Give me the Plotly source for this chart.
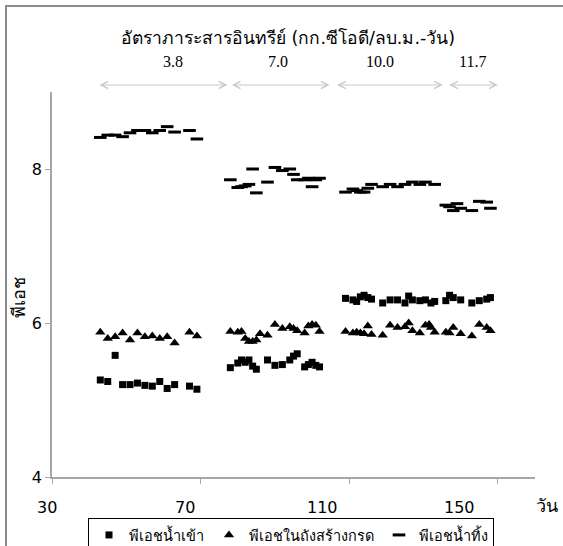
import plotly.graph_objects as go

# ---------------- data ----------------
days = [43, 45, 47, 49, 51, 53, 55, 57, 59, 61, 63, 67, 69,
        78, 80, 81, 82, 83, 84, 85, 86, 88, 90, 92, 94, 95, 96, 98, 99, 100, 101, 102,
        109, 111, 112, 113, 114, 115, 116, 119, 121, 123, 125, 126, 127, 129, 130.5, 131.5, 132, 133,
        136, 137, 138, 139, 140, 143, 145, 147, 148]

ph_influent = [5.26, 5.24, 5.58, 5.20, 5.20, 5.22, 5.19, 5.18, 5.24, 5.15, 5.20, 5.18, 5.14,
               5.42, 5.48, 5.52, 5.49, 5.52, 5.44, 5.40, None, 5.52, 5.45, 5.46, 5.52, 5.57, 5.60, 5.43, 5.46, 5.49, 5.45, 5.43,
               6.32, 6.30, 6.28, 6.34, 6.36, 6.33, 6.31, 6.26, 6.30, 6.30, 6.26, 6.35, 6.30, 6.29, 6.30, None, 6.26, 6.28,
               6.29, 6.36, 6.33, None, 6.30, 6.26, 6.29, 6.31, 6.33]

ph_acid_tank = [5.88, 5.80, 5.82, 5.87, 5.78, 5.87, 5.82, 5.83, 5.80, 5.82, 5.74, 5.88, 5.83,
                5.89, 5.88, 5.89, 5.80, 5.76, 5.76, 5.78, 5.86, 5.84, 5.98, 5.93, 5.95, 5.93, 5.90, 5.87, 5.96, 5.98, 5.97, 5.89,
                5.89, 5.87, 5.88, 5.87, 5.86, 5.96, 5.85, 5.84, 5.97, 5.94, 5.95, 6.00, 5.90, 5.87, 5.97, 5.98, 5.94, 5.88,
                5.88, 5.87, 5.94, None, 5.86, 5.83, 5.98, 5.94, 5.90]

ph_effluent = [8.41, 8.44, 8.44, 8.42, 8.47, 8.50, 8.50, 8.47, 8.50, 8.55, 8.48, 8.50, 8.39,
               7.86, 7.76, 7.77, 7.78, 7.80, 8.00, 7.69, None, 7.83, 8.02, 7.98, 8.00, 7.93, 7.86, 7.86, 7.88, 7.77, 7.86, 7.88,
               7.70, 7.74, 7.72, 7.70, 7.70, 7.75, 7.80, 7.77, 7.80, 7.77, 7.80, None, 7.83, 7.80, 7.83, None, None, 7.80,
               7.53, 7.51, 7.46, 7.55, 7.49, 7.46, 7.58, 7.57, 7.49]

series_names = ["พีเอชน้ำเข้า", "พีเอชในถังสร้างกรด", "พีเอชน้ำทิ้ง"]

olr_labels = ["3.8", "7.0", "10.0", "11.7"]
phase_start = [42.4, 78.0, 106.3, 136.5]
phase_end = [77.2, 104.7, 135.2, 150.0]

x_tick_vals = [30, 70, 110, 150]
y_tick_vals = [4, 6, 8]

title_text = "อัตราภาระสารอินทรีย์ (กก.ซีโอดี/ลบ.ม.-วัน)"
y_title = "พีเอช"
x_title = "วัน"

# ---------------- layout helpers ----------------
W, H = 563, 546
L, R, T, B = 52, 28, 92, 69
PW, PH = W - L - R, H - T - B


def px_x(p):
    return (p - L) / PW


def px_y(p):
    return (H - B - p) / PH


SANS = "Tahoma, Verdana, DejaVu Sans, sans-serif"
SERIF = "Times New Roman, Liberation Serif, serif"

fig = go.Figure()
fig.add_trace(go.Scatter(x=days, y=ph_influent, mode="markers", name=series_names[0],
                         marker=dict(symbol="square", size=7, color="black")))
fig.add_trace(go.Scatter(x=days, y=ph_acid_tank, mode="markers", name=series_names[1],
                         marker=dict(symbol="triangle-up", size=9, color="black")))
fig.add_trace(go.Scatter(x=days, y=ph_effluent, mode="markers", name=series_names[2],
                         marker=dict(symbol="line-ew", size=9, color="black",
                                     line=dict(color="black", width=3))))

annotations = []
# title
annotations.append(dict(text=title_text, x=px_x(288), y=px_y(38), xref="paper", yref="paper",
                        showarrow=False, font=dict(family=SANS, size=17.5, color="black"),
                        xanchor="center", yanchor="middle"))
# OLR labels
olr_label_px = [173, 278, 380, 472]
for lab, p in zip(olr_labels, olr_label_px):
    annotations.append(dict(text=lab, x=px_x(p), y=px_y(62), xref="paper", yref="paper",
                            showarrow=False, font=dict(family=SERIF, size=16, color="black"),
                            xanchor="center", yanchor="middle"))
# phase arrows
for s, e in zip(phase_start, phase_end):
    annotations.append(dict(text="", x=e, ax=s, xref="x", axref="x",
                            y=px_y(85), ay=0, yref="paper", ayref="pixel",
                            showarrow=True, arrowside="end+start", arrowhead=5,
                            arrowsize=1.4, arrowwidth=1, arrowcolor="#c8c8c8",
                            startarrowhead=5, startarrowsize=1.4))
# x tick labels
for v in x_tick_vals:
    p = 47 + (v - 30) * 3.4375
    annotations.append(dict(text=str(v), x=px_x(p), y=px_y(507), xref="paper", yref="paper",
                            showarrow=False, font=dict(family=SANS, size=16, color="black"),
                            xanchor="center", yanchor="middle"))
# axis titles
annotations.append(dict(text=y_title, x=px_x(18), y=px_y(298), xref="paper", yref="paper",
                        showarrow=False, textangle=-90, font=dict(family=SANS, size=18, color="black"),
                        xanchor="center", yanchor="middle"))
annotations.append(dict(text=x_title, x=px_x(534), y=px_y(506), xref="paper", yref="paper",
                        showarrow=False, font=dict(family=SANS, size=18, color="black"),
                        xanchor="left", yanchor="middle"))

shapes = [dict(type="rect", xref="paper", yref="paper",
               x0=px_x(6), x1=px_x(700), y0=px_y(6), y1=px_y(700),
               line=dict(color="#8c8c8c", width=2), fillcolor="rgba(0,0,0,0)", layer="below")]

fig.update_layout(
    width=W, height=H,
    margin=dict(l=L, r=R, t=T, b=B, autoexpand=False),
    paper_bgcolor="white", plot_bgcolor="white",
    showlegend=True,
    legend=dict(orientation="h", x=px_x(88), y=px_y(518), xanchor="left", yanchor="top",
                bordercolor="black", borderwidth=1, bgcolor="white",
                font=dict(family=SANS, size=14.5, color="black"),
                itemwidth=30, tracegroupgap=0),
    annotations=annotations,
    shapes=shapes,
)
fig.update_xaxes(range=[30, 160], showgrid=False, zeroline=False, showline=True,
                 linecolor="#a6a6a6", linewidth=1.5, ticks="outside", ticklen=5,
                 tickcolor="#a6a6a6", tickvals=x_tick_vals, showticklabels=False)
fig.update_yaxes(range=[4, 9], showgrid=False, zeroline=False, showline=True,
                 linecolor="#a6a6a6", linewidth=1.5, ticks="outside", ticklen=5,
                 tickcolor="#a6a6a6", tickvals=y_tick_vals,
                 tickfont=dict(family=SANS, size=16, color="black"))

fig.write_html("out.html")
